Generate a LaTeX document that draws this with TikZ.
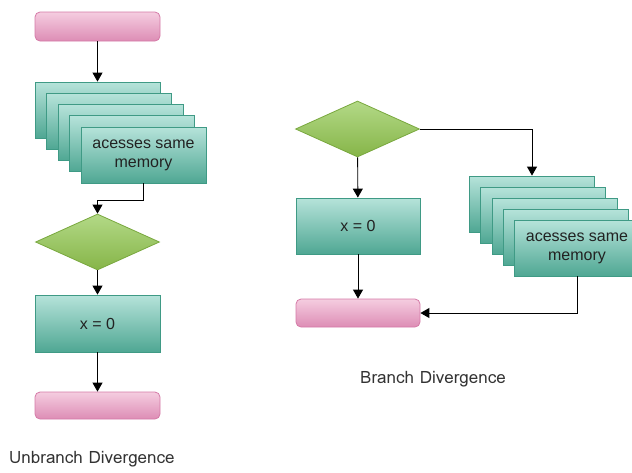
\documentclass[tikz,border=0pt]{standalone}
\usepackage{fontspec}
\setmainfont{Liberation Sans}
\newfontfamily\labelfont{Loma}
\usetikzlibrary{shapes.geometric,arrows.meta}

\definecolor{pinkTop}{HTML}{F5CDE0}
\definecolor{pinkBot}{HTML}{DD8DB5}
\definecolor{pinkLine}{HTML}{D57AA7}
\definecolor{tealTop}{HTML}{B6E3DA}
\definecolor{tealBot}{HTML}{4FA793}
\definecolor{tealLine}{HTML}{3F9A85}
\definecolor{greenTop}{HTML}{B3D987}
\definecolor{greenBot}{HTML}{86B548}
\definecolor{greenLine}{HTML}{79A83E}
\definecolor{inkText}{HTML}{222222}

\tikzset{
  terminal/.style={draw=pinkLine, line width=0.8pt, rounded corners=5pt,
    top color=pinkTop, bottom color=pinkBot, minimum width=125pt, inner sep=0pt},
  procbox/.style={draw=tealLine, line width=0.8pt,
    top color=tealTop, bottom color=tealBot, minimum width=125pt,
    minimum height=56pt, inner sep=0pt, align=center, text=inkText,
    font=\fontsize{16}{19}\selectfont},
  decision/.style={diamond, draw=greenLine, line width=0.8pt,
    top color=greenTop, bottom color=greenBot, minimum width=124pt,
    minimum height=56pt, inner sep=0pt},
  flow/.style={draw=black, line width=0.9pt, -{Triangle[width=10pt,length=9pt]}},
  caption/.style={font=\labelfont\fontsize{17}{20}\selectfont, text=black!80, inner sep=0pt}
}

\begin{document}
\begin{tikzpicture}[x=1pt,y=-1pt]
\useasboundingbox (0,0) rectangle (632,472);
\clip (0,0) rectangle (632,472);

% ---------- unbranched path ----------
\node[terminal, minimum height=29pt] (lstart) at (97.5,26.5) {};
\node[procbox] (lst1) at (97.5,110) {};
\node[procbox] (lst2) at (109,121.25) {};
\node[procbox] (lst3) at (120.5,132.5) {};
\node[procbox] (lst4) at (132,143.75) {};
\node[procbox] (lst5) at (143.5,155) {acesses same\\memory};
\node[decision] (ldia) at (97.5,242) {};
\node[procbox, minimum height=57pt] (lx) at (97.5,323.5) {x = 0};
\node[terminal, minimum height=27pt] (lend) at (97.5,405.5) {};

\draw[flow] (lstart) -- (lst1);
\draw[flow] (lst5.south) -- ++(0,17) -| (ldia.north);
\draw[flow] (ldia) -- (lx);
\draw[flow] (lx) -- (lend);

\node[caption, anchor=west] (lcap) at (9,459) {Unbranch Divergence};

% ---------- branched path ----------
\node[decision] (rdia) at (357.5,129) {};
\node[procbox, minimum width=124pt] (rx) at (358,226) {x = 0};
\node[terminal, minimum width=124pt, minimum height=28pt] (rend) at (358,313) {};
\node[procbox] (rst1) at (532,204) {};
\node[procbox] (rst2) at (543.25,215) {};
\node[procbox] (rst3) at (554.5,226) {};
\node[procbox] (rst4) at (565.75,237) {};
\node[procbox] (rst5) at (577,248) {acesses same\\memory};

\draw[flow] (rdia) -- (rx);
\draw[flow] (rx) -- (rend);
\draw[flow] (rdia.east) -| (rst1.north);
\draw[flow] (rst5.south) |- (rend.east);

\node[caption] (rcap) at (433,379) {Branch Divergence};
\end{tikzpicture}
\end{document}
